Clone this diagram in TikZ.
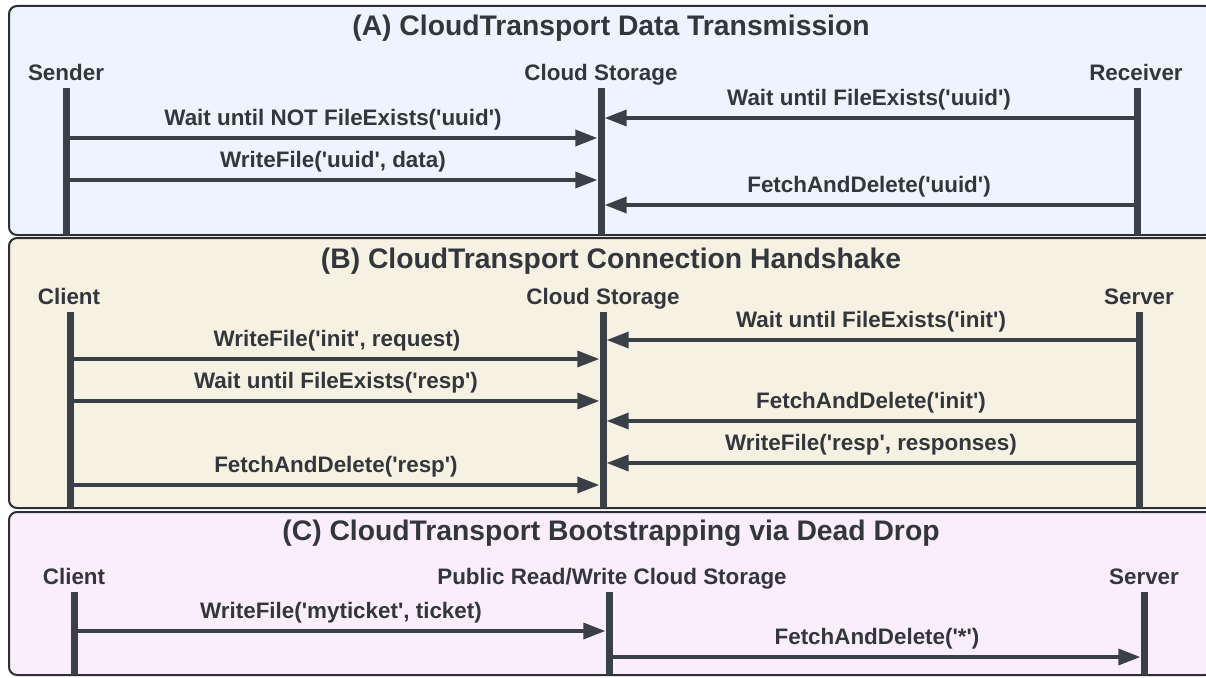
\documentclass[tikz,border=0pt]{standalone}
\usepackage{fontspec}
\setmainfont{Liberation Sans}
\usetikzlibrary{arrows.meta}
\newcommand\sq{\textquotesingle}
\definecolor{ink}{HTML}{3A3F48}
\definecolor{txt}{HTML}{33363B}
\definecolor{frame}{HTML}{2C2E33}
\definecolor{fillA}{HTML}{EDF4FF}
\definecolor{fillB}{HTML}{F6F2E3}
\definecolor{fillC}{HTML}{FAEEFD}
\tikzset{
  panel/.style={draw=frame, line width=2pt, rounded corners=8pt},
  ptitle/.style={anchor=base, text=txt, font=\bfseries\fontsize{28.3}{31}\selectfont, inner sep=0pt},
  actor/.style={anchor=base, text=txt, font=\bfseries\fontsize{22.4}{25}\selectfont, inner sep=0pt},
  msglabel/.style={anchor=base, text=txt, font=\bfseries\fontsize{22.4}{25}\selectfont, inner sep=0pt},
  lifeline/.style={fill=ink, draw=none, minimum width=7pt, inner sep=0pt, rectangle},
  msg/.style={draw=ink, line width=3.5pt, -{Triangle[length=22pt,width=16pt]}},
}
\begin{document}
\begin{tikzpicture}[x=1pt,y=-1pt]
\useasboundingbox (0,0) rectangle (1206,677);
% panels
\draw[panel, fill=fillA] (9,6) rectangle (1213,235);
\draw[panel, fill=fillB] (9,238) rectangle (1213,508);
\draw[panel, fill=fillC] (9,512) rectangle (1213,675);

% ---------- Panel A ----------
\node[ptitle] (tA) at (611,36) {(A) CloudTransport Data Transmission};
\node[actor] (lA1) at (66,81) {Sender};
\node[actor] (lA2) at (601,81) {Cloud Storage};
\node[actor] (lA3) at (1136,81) {Receiver};
\node[lifeline, minimum height=147pt] (snd) at (66,161.5) {};
\node[lifeline, minimum height=147pt] (csA) at (601,161.5) {};
\node[lifeline, minimum height=147pt] (rcv) at (1137,161.5) {};
\coordinate (yA1) at (0,138);
\coordinate (yA2) at (0,180);
\coordinate (yA3) at (0,118);
\coordinate (yA4) at (0,205);
\draw[msg] (snd.center |- yA1) -- (csA.west |- yA1);
\node[msglabel] (mA1) at (333,125) {Wait until NOT FileExists(\sq uuid\sq)};
\draw[msg] (snd.center |- yA2) -- (csA.west |- yA2);
\node[msglabel] (mA2) at (333,167) {WriteFile(\sq uuid\sq, data)};
\draw[msg] (rcv.center |- yA3) -- (csA.east |- yA3);
\node[msglabel] (mA3) at (869,105) {Wait until FileExists(\sq uuid\sq)};
\draw[msg] (rcv.center |- yA4) -- (csA.east |- yA4);
\node[msglabel] (mA4) at (869,192) {FetchAndDelete(\sq uuid\sq)};

% ---------- Panel B ----------
\node[ptitle] (tB) at (611,268) {(B) CloudTransport Connection Handshake};
\node[actor] (lB1) at (69,304) {Client};
\node[actor] (lB2) at (603,304) {Cloud Storage};
\node[actor] (lB3) at (1139,304) {Server};
\node[lifeline, minimum height=196pt] (cliB) at (70,410) {};
\node[lifeline, minimum height=196pt] (csB) at (603,410) {};
\node[lifeline, minimum height=196pt] (srvB) at (1139,410) {};
\coordinate (yB1) at (0,359);
\coordinate (yB2) at (0,401);
\coordinate (yB3) at (0,485);
\coordinate (yB4) at (0,340);
\coordinate (yB5) at (0,421);
\coordinate (yB6) at (0,463);
\draw[msg] (cliB.center |- yB1) -- (csB.west |- yB1);
\node[msglabel] (mB1) at (337,346) {WriteFile(\sq init\sq, request)};
\draw[msg] (cliB.center |- yB2) -- (csB.west |- yB2);
\node[msglabel] (mB2) at (336,388) {Wait until FileExists(\sq resp\sq)};
\draw[msg] (cliB.center |- yB3) -- (csB.west |- yB3);
\node[msglabel] (mB3) at (336,472) {FetchAndDelete(\sq resp\sq)};
\draw[msg] (srvB.center |- yB4) -- (csB.east |- yB4);
\node[msglabel] (mB4) at (871,327) {Wait until FileExists(\sq init\sq)};
\draw[msg] (srvB.center |- yB5) -- (csB.east |- yB5);
\node[msglabel] (mB5) at (871,408) {FetchAndDelete(\sq init\sq)};
\draw[msg] (srvB.center |- yB6) -- (csB.east |- yB6);
\node[msglabel] (mB6) at (871,450) {WriteFile(\sq resp\sq, responses)};

% ---------- Panel C ----------
\node[ptitle] (tC) at (611,540) {(C) CloudTransport Bootstrapping via Dead Drop};
\node[actor] (lC1) at (74,584) {Client};
\node[actor] (lC2) at (612,584) {Public Read/Write Cloud Storage};
\node[actor] (lC3) at (1144,584) {Server};
\node[lifeline, minimum height=83pt] (cliC) at (74,633.5) {};
\node[lifeline, minimum height=83pt] (csC) at (609,633.5) {};
\node[lifeline, minimum height=83pt] (srvC) at (1144,633.5) {};
\coordinate (yC1) at (0,631);
\coordinate (yC2) at (0,657);
\draw[msg] (cliC.center |- yC1) -- (csC.west |- yC1);
\node[msglabel] (mC1) at (341,618) {WriteFile(\sq myticket\sq, ticket)};
\draw[msg] (csC.center |- yC2) -- (srvC.west |- yC2);
\node[msglabel] (mC2) at (877,644) {FetchAndDelete(\sq*\sq)};
\end{tikzpicture}
\end{document}
